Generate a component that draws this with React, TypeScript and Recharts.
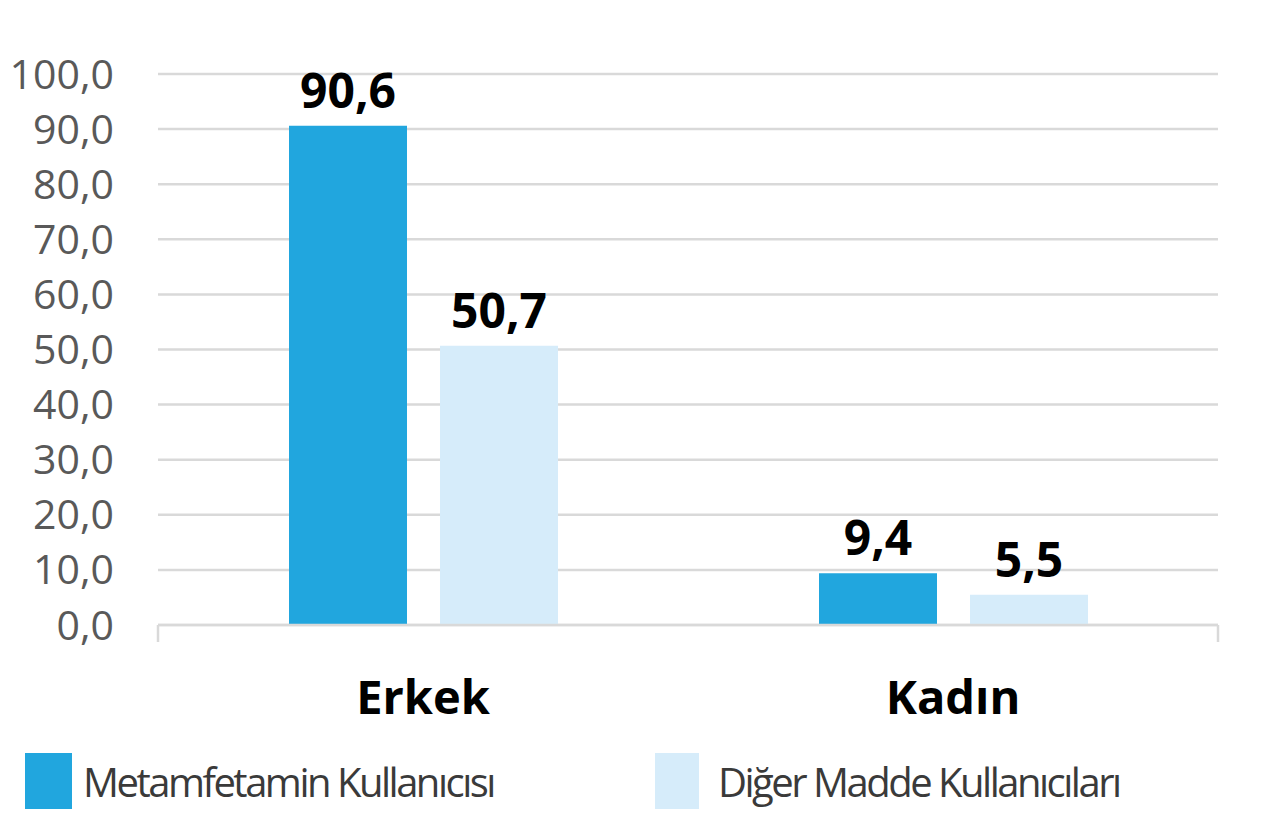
import React from "react";
import { BarChart, Bar, XAxis, YAxis, CartesianGrid, LabelList, Legend } from "recharts";

const categories = ["Erkek", "Kadın"];
const metamfetamin = [90.6, 9.4];
const diger = [50.7, 5.5];
const seriesNames = ["Metamfetamin Kullanıcısı", "Diğer Madde Kullanıcıları"];
const yTicks = [0, 10, 20, 30, 40, 50, 60, 70, 80, 90, 100];
const boundaryTicks = [0, 1, 2];

const COLORS = ["#21A6DE", "#D6ECFA"];
const FONT = "'Open Sans', 'Noto Sans', sans-serif";

const data = categories.map((c, i) => ({ name: c, met: metamfetamin[i], dig: diger[i] }));

const fmt = (v: number) => v.toFixed(1).replace(".", ",");

const legendItems = [
  { left: 25, sw: 47, gap: 11 },
  { left: 655, sw: 44, gap: 19 },
];

const LegendContent = () => (
  <div style={{ position: "relative", width: 1280, height: 70, fontFamily: FONT }}>
    {seriesNames.map((n, i) => (
      <div
        key={n}
        style={{
          position: "absolute",
          left: legendItems[i].left,
          top: 0,
          display: "flex",
          alignItems: "center",
        }}
      >
        <div style={{ width: legendItems[i].sw, height: 56, background: COLORS[i] }} />
        <span style={{ marginLeft: legendItems[i].gap, fontSize: 40, color: "#3a3a3a", whiteSpace: "nowrap", letterSpacing: -2.5 }}>{n}</span>
      </div>
    ))}
  </div>
);

const emptyTick = () => <g />;

export default function App() {
  return (
    <div style={{ position: "absolute", left: 0, top: 0, width: 1280, height: 817, background: "#fff" }}>
      <BarChart
        width={1280}
        height={817}
        data={data}
        margin={{ top: 74, right: 62, left: 0, bottom: 0 }}
        barCategoryGap={130}
        barGap={33}
      >
        <CartesianGrid vertical={false} stroke="#D9D9D9" strokeWidth={2.5} />
        <XAxis
          xAxisId="bnd"
          type="number"
          domain={[0, 2]}
          ticks={boundaryTicks}
          height={20}
          orientation="bottom"
          axisLine={{ stroke: "#D9D9D9", strokeWidth: 2.5 }}
          tickLine={{ stroke: "#D9D9D9", strokeWidth: 2.5 }}
          tickSize={17}
          tick={emptyTick}
          interval={0}
          allowDataOverflow
        />
        <XAxis
          xAxisId="cat"
          dataKey="name"
          height={102}
          axisLine={false}
          tickLine={false}
          tick={{ fontSize: 47, fontWeight: 700, fill: "#000", fontFamily: FONT }}
          tickMargin={30}
        />
        <YAxis
          width={158}
          domain={[0, 100]}
          ticks={yTicks}
          axisLine={false}
          tickLine={false}
          tickFormatter={fmt}
          tickMargin={38}
          tick={{ fontSize: 41, fill: "#595959", fontFamily: FONT }}
          interval={0}
        />
        <Legend
          verticalAlign="bottom"
          content={<LegendContent />}
          wrapperStyle={{ position: "absolute", left: 0, top: 753, width: 1280 }}
        />
        <Bar xAxisId="cat" dataKey="met" name={seriesNames[0]} fill={COLORS[0]} barSize={118} isAnimationActive={false}>
          <LabelList dataKey="met" position="top" offset={18} formatter={fmt} style={{ fontSize: 48, fontWeight: 700, fill: "#000", fontFamily: FONT }} />
        </Bar>
        <Bar xAxisId="cat" dataKey="dig" name={seriesNames[1]} fill={COLORS[1]} barSize={118} isAnimationActive={false}>
          <LabelList dataKey="dig" position="top" offset={18} formatter={fmt} style={{ fontSize: 48, fontWeight: 700, fill: "#000", fontFamily: FONT }} />
        </Bar>
      </BarChart>
    </div>
  );
}
